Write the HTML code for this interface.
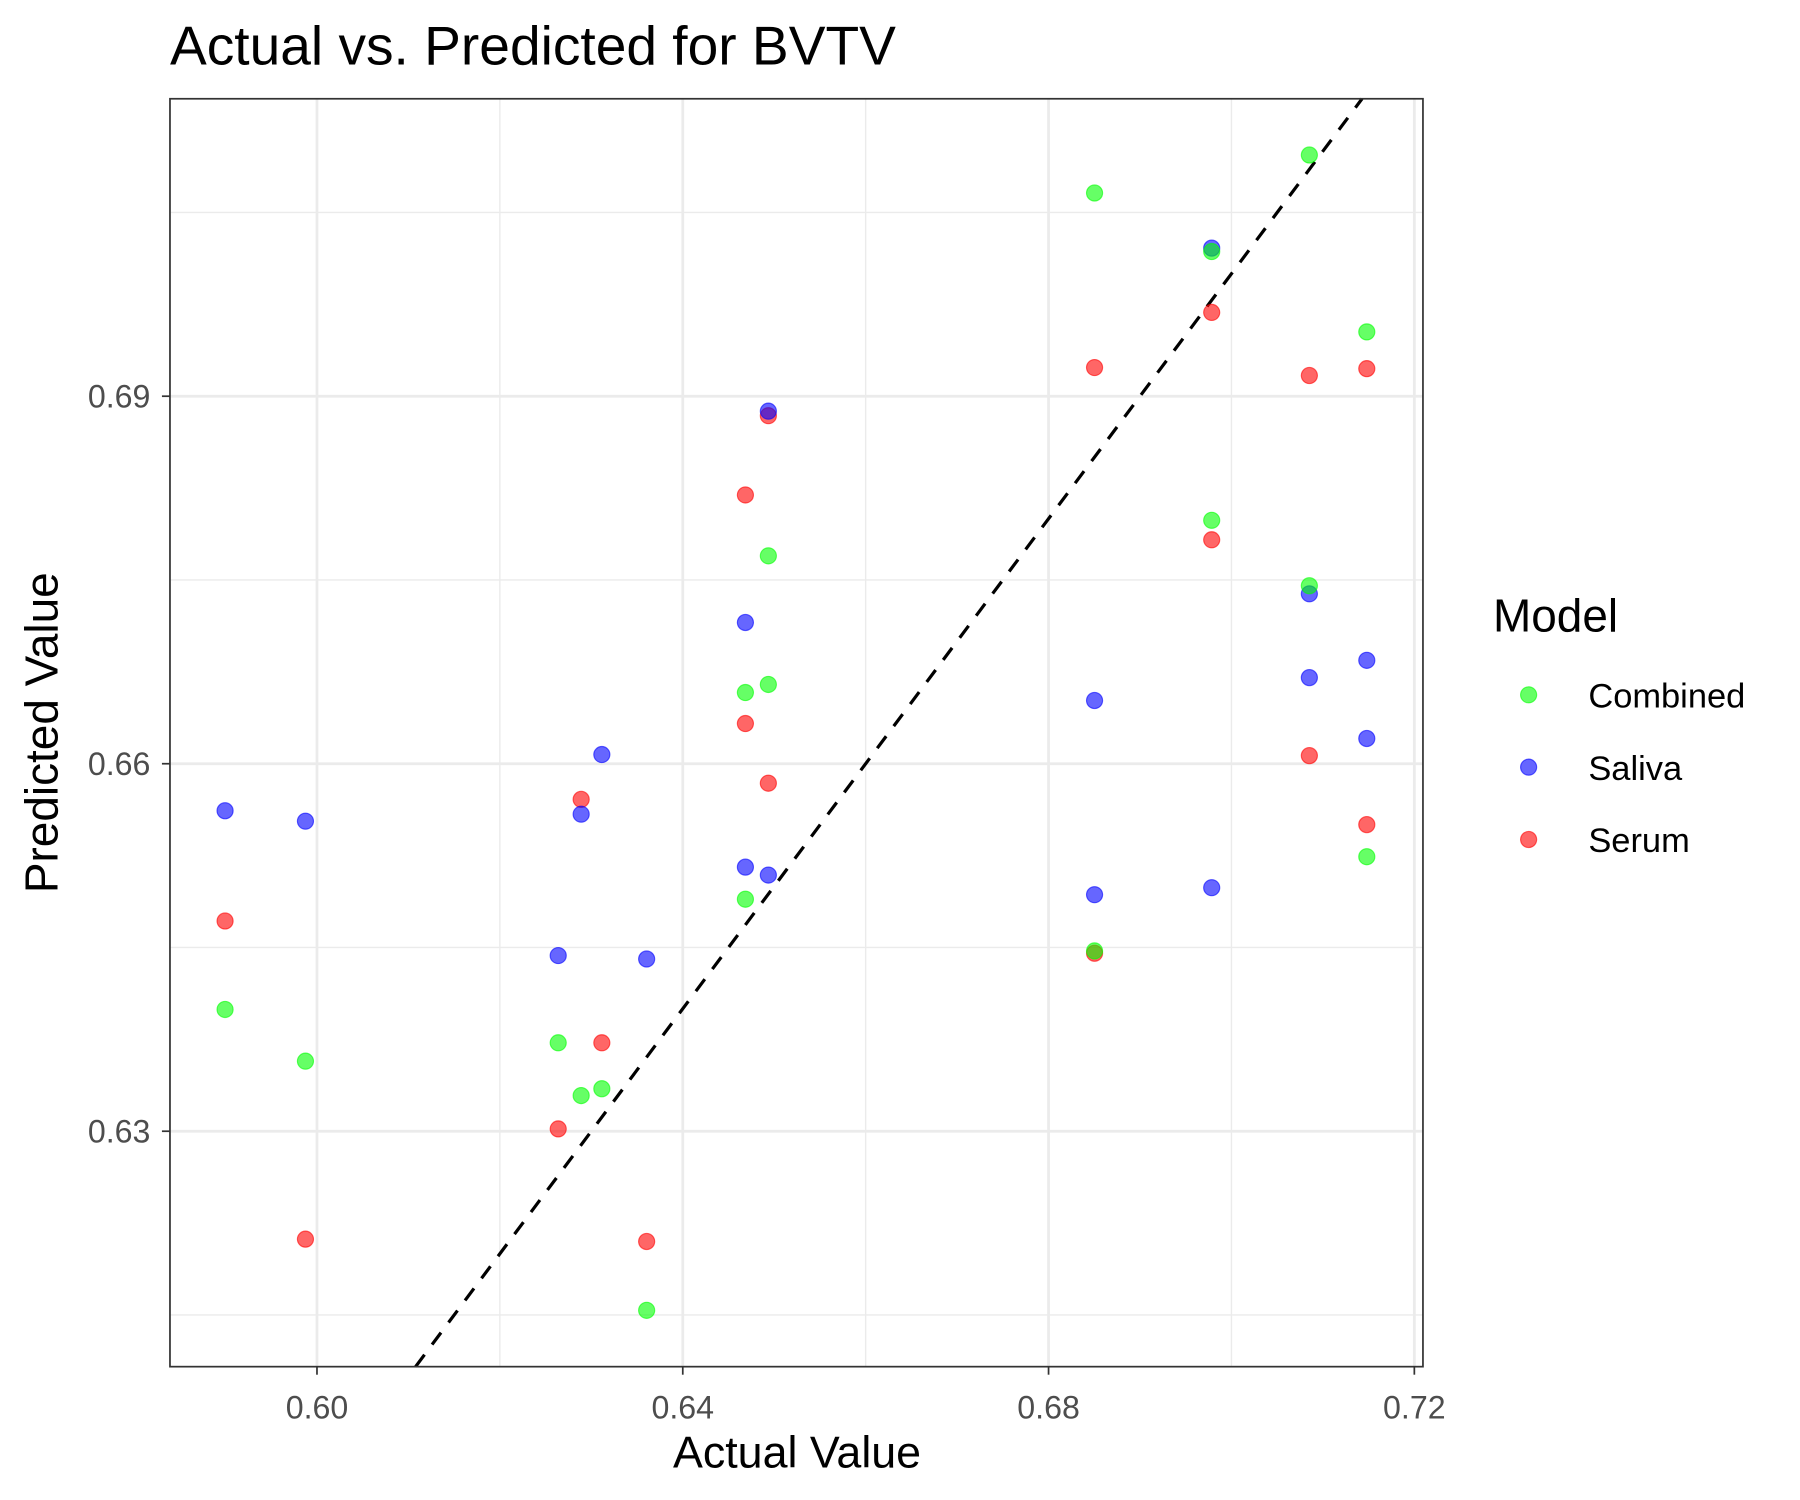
<!DOCTYPE html>
<html><head><meta charset="utf-8"><style>
html,body{margin:0;padding:0;background:#fff;}
svg{display:block;font-family:"Liberation Sans",Arial,sans-serif;}
</style></head><body>
<svg id="chart" width="1800" height="1500" viewBox="0 0 1567.3 1306.1" preserveAspectRatio="none" xmlns="http://www.w3.org/2000/svg">
<rect width="1567.3" height="1306.1" fill="#fff"/>
<text x="148" y="56" font-size="48" fill="#000">Actual vs. Predicted for BVTV</text>
<g id="grid"></g>
<g id="diag"></g>
<g id="points"></g>
<rect x="148" y="86" width="1091" height="1104" fill="none" stroke="#333" stroke-width="1.5"/>
<g id="axes"></g>
<text x="694" y="1278" font-size="39" text-anchor="middle">Actual Value</text>
<text transform="translate(50,638) rotate(-90)" font-size="40" text-anchor="middle">Predicted Value</text>
<g>
<text x="1300" y="550" font-size="40">Model</text>
<g><circle cx="1331" cy="605" r="7" fill="#00ff00" fill-opacity="0.6" stroke="#00ff00" stroke-opacity="0.6"/><text x="1383" y="616" font-size="30">Combined</text></g>
<g><circle cx="1331" cy="668" r="7" fill="#0000ff" fill-opacity="0.6" stroke="#0000ff" stroke-opacity="0.6"/><text x="1383" y="679" font-size="30">Saliva</text></g>
<g><circle cx="1331" cy="731" r="7" fill="#ff0000" fill-opacity="0.6" stroke="#ff0000" stroke-opacity="0.6"/><text x="1383" y="742" font-size="30">Serum</text></g>
</g>
</svg>
<script>
const actual = [0.58995,0.59874,0.62638,0.62889,0.63115,0.63605,0.64685,0.64685,0.64936,0.64936,0.68503,0.68503,0.69784,0.69784,0.70852,0.70852,0.71480,0.71480];
const serumY = [0.64716,0.62119,0.63019,0.65709,0.63722,0.62100,0.68194,0.66328,0.68841,0.65841,0.69234,0.64453,0.69684,0.67828,0.69169,0.66066,0.69225,0.65503];
const salivaY = [0.65616,0.65531,0.64434,0.65588,0.66075,0.64406,0.67153,0.65156,0.68878,0.65091,0.66516,0.64931,0.70209,0.64988,0.67387,0.66703,0.66844,0.66206];
const combinedY = [0.63994,0.63572,0.63722,0.63291,0.63347,0.61538,0.66581,0.64894,0.67697,0.66647,0.70659,0.64472,0.70181,0.67987,0.67453,0.70969,0.69525,0.65241];
const xTicks = [0.60,0.64,0.68,0.72];
const xTickLabels = ["0.60","0.64","0.68","0.72"];
const yTicks = [0.63,0.66,0.69];
const yTickLabels = ["0.63","0.66","0.69"];
const xMinor = [0.62,0.66,0.70];
const yMinor = [0.615,0.645,0.675,0.705];

const L=148,R=1239,T=86,B=1190;
const xs = v => 276 + (v-0.60)*7962.5;
const ys = v => 665 - (v-0.66)*10666.7;
const NS='http://www.w3.org/2000/svg';
function mk(tag, attrs, parent){const e=document.createElementNS(NS,tag);for(const k in attrs)e.setAttribute(k,attrs[k]);parent.appendChild(e);return e;}
const grid=document.getElementById('grid'), axes=document.getElementById('axes'), pts=document.getElementById('points'), diag=document.getElementById('diag');
mk('rect',{x:L,y:T,width:R-L,height:B-T,fill:'#fff'},grid);
xMinor.forEach(v=>{const e=mk('line',{x1:xs(v),x2:xs(v),y1:T,y2:B,stroke:'#ebebeb','stroke-width':1.2},grid);

});
yMinor.forEach(v=>{const e=mk('line',{x1:L,x2:R,y1:ys(v),y2:ys(v),stroke:'#ebebeb','stroke-width':1.2},grid);

});
xTicks.forEach((v,i)=>{const e=mk('line',{x1:xs(v),x2:xs(v),y1:T,y2:B,stroke:'#ebebeb','stroke-width':2.4},grid);


const t=mk('line',{x1:xs(v),x2:xs(v),y1:B,y2:B+7,stroke:'#333','stroke-width':1.5},axes);


const l=mk('text',{x:xs(v),y:B+45,'font-size':28,fill:'#4d4d4d','text-anchor':'middle'},axes);l.textContent=xTickLabels[i];

});
yTicks.forEach((v,i)=>{const e=mk('line',{x1:L,x2:R,y1:ys(v),y2:ys(v),stroke:'#ebebeb','stroke-width':2.4},grid);


const t=mk('line',{x1:L-7,x2:L,y1:ys(v),y2:ys(v),stroke:'#333','stroke-width':1.5},axes);


const l=mk('text',{x:L-17,y:ys(v)+10,'font-size':28,fill:'#4d4d4d','text-anchor':'end'},axes);l.textContent=yTickLabels[i];

});
const lo=Math.max(0.60+(L-276)/7962.5, 0.66-(B-665)/10666.7), hi=Math.min(0.60+(R-276)/7962.5, 0.66+(665-T)/10666.7);
const d=mk('line',{x1:xs(lo),y1:ys(lo),x2:xs(hi),y2:ys(hi),stroke:'#000','stroke-width':2.8,'stroke-dasharray':'13 11'},diag);


function series(ys_, color, name){ys_.forEach((v,i)=>{const c=mk('circle',{cx:xs(actual[i]),cy:ys(v),r:7,fill:color,'fill-opacity':0.6,stroke:color,'stroke-opacity':0.6,'stroke-width':1},pts);

});}
series(serumY,'#ff0000','serum-point');
series(salivaY,'#0000ff','saliva-point');
series(combinedY,'#00ff00','combined-point');
</script>
</body></html>
